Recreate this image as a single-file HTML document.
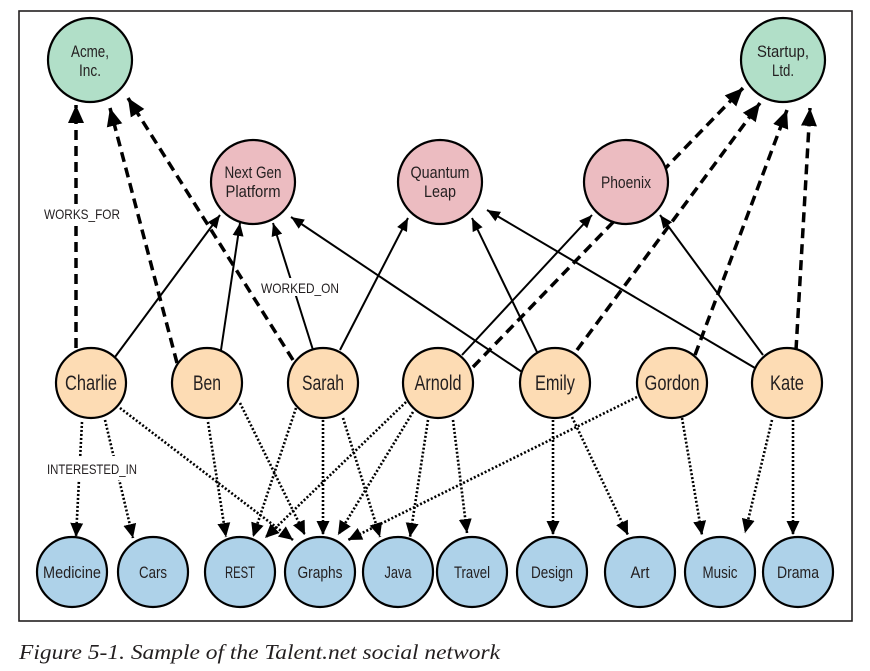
<!DOCTYPE html>
<html><head><meta charset="utf-8"><style>
html,body{margin:0;padding:0;background:#fff;}
svg{display:block;}
.s{font-family:"Liberation Sans",sans-serif;fill:#231f20;}
</style></head><body>
<svg width="870" height="671" viewBox="0 0 870 671" xmlns="http://www.w3.org/2000/svg">
<defs>
<marker id="ad" markerUnits="userSpaceOnUse" markerWidth="20" markerHeight="20" viewBox="0 0 20 20" refX="18" refY="10" orient="auto"><path d="M0,2 L18,10 L0,18 Z" fill="#000"/></marker>
<marker id="as" markerUnits="userSpaceOnUse" markerWidth="14" markerHeight="14" viewBox="0 0 14 14" refX="13" refY="7" orient="auto"><path d="M0,1.5 L13,7 L0,12.5 Z" fill="#000"/></marker>
<marker id="ao" markerUnits="userSpaceOnUse" markerWidth="16" markerHeight="16" viewBox="0 0 16 16" refX="14" refY="8" orient="auto"><path d="M0,1.5 L14,8 L0,14.5 Z" fill="#000"/></marker>
</defs>
<rect x="19" y="11" width="833" height="610" fill="#fff" stroke="#231f20" stroke-width="1.6"/>

<g stroke="#000" stroke-width="3.5" stroke-dasharray="10,6" fill="none" marker-end="url(#ad)">
<line x1="76" y1="348" x2="76" y2="105"/>
<line x1="177" y1="363" x2="110" y2="108"/>
<line x1="293" y1="360" x2="128" y2="98"/>
<line x1="473" y1="367" x2="743" y2="88"/>
<line x1="577" y1="350" x2="760" y2="103"/>
<line x1="695" y1="355" x2="787" y2="110"/>
<line x1="796" y1="350" x2="810" y2="108"/>
</g>

<g stroke="#000" stroke-width="2" fill="none" marker-end="url(#as)">
<line x1="115" y1="357" x2="220" y2="215"/>
<line x1="221" y1="350" x2="240" y2="223"/>
<line x1="313" y1="350" x2="273" y2="223"/>
<line x1="340" y1="350" x2="408" y2="218"/>
<line x1="522" y1="372" x2="291" y2="217"/>
<line x1="462" y1="355" x2="592" y2="215"/>
<line x1="537" y1="352" x2="472" y2="218"/>
<line x1="755" y1="368" x2="487" y2="210"/>
<line x1="763" y1="355" x2="660" y2="215"/>
</g>

<g stroke="#000" stroke-width="2.6" stroke-dasharray="2,2" fill="none" marker-end="url(#ao)">
<line x1="82" y1="422" x2="76" y2="537"/>
<line x1="105" y1="420" x2="133" y2="538"/>
<line x1="120" y1="408" x2="293" y2="540"/>
<line x1="208" y1="422" x2="226" y2="537"/>
<line x1="240" y1="403" x2="305" y2="535"/>
<line x1="296" y1="408" x2="253" y2="537"/>
<line x1="323" y1="420" x2="323" y2="535"/>
<line x1="343" y1="418" x2="380" y2="537"/>
<line x1="406" y1="402" x2="265" y2="538"/>
<line x1="413" y1="412" x2="338" y2="535"/>
<line x1="428" y1="420" x2="410" y2="537"/>
<line x1="453" y1="420" x2="467" y2="533"/>
<line x1="637" y1="397" x2="348" y2="540"/>
<line x1="553" y1="420" x2="553" y2="535"/>
<line x1="572" y1="417" x2="628" y2="535"/>
<line x1="682" y1="418" x2="702" y2="535"/>
<line x1="772" y1="420" x2="745" y2="533"/>
<line x1="793" y1="420" x2="793" y2="535"/>
</g>

<g class="s" font-size="14" text-anchor="middle">
<rect x="42" y="204" width="80" height="18" fill="#fff"/>
<text x="82" y="219" textLength="76" lengthAdjust="spacingAndGlyphs">WORKS_FOR</text>
<rect x="258" y="278" width="84" height="18" fill="#fff"/>
<text x="300" y="293" textLength="78" lengthAdjust="spacingAndGlyphs">WORKED_ON</text>
<rect x="45" y="456" width="96" height="24" fill="#fff"/>
<text x="92" y="474" textLength="90" lengthAdjust="spacingAndGlyphs">INTERESTED_IN</text>
</g>

<g stroke="#000" stroke-width="2.2">
<circle cx="90" cy="60" r="42" fill="#b1dfc8"/>
<circle cx="783" cy="60" r="42" fill="#b1dfc8"/>
<circle cx="253" cy="182" r="42" fill="#ecbcc1"/>
<circle cx="440" cy="182" r="42" fill="#ecbcc1"/>
<circle cx="626" cy="182" r="42" fill="#ecbcc1"/>
<circle cx="91" cy="383" r="35" fill="#fddcb4"/>
<circle cx="207" cy="383" r="35" fill="#fddcb4"/>
<circle cx="323" cy="383" r="35" fill="#fddcb4"/>
<circle cx="438" cy="383" r="35" fill="#fddcb4"/>
<circle cx="555" cy="383" r="35" fill="#fddcb4"/>
<circle cx="672" cy="383" r="35" fill="#fddcb4"/>
<circle cx="787" cy="383" r="35" fill="#fddcb4"/>
<circle cx="72" cy="572" r="35" fill="#aed2e9"/>
<circle cx="153" cy="572" r="35" fill="#aed2e9"/>
<circle cx="240" cy="572" r="35" fill="#aed2e9"/>
<circle cx="320" cy="572" r="35" fill="#aed2e9"/>
<circle cx="398" cy="572" r="35" fill="#aed2e9"/>
<circle cx="472" cy="572" r="35" fill="#aed2e9"/>
<circle cx="552" cy="572" r="35" fill="#aed2e9"/>
<circle cx="640" cy="572" r="35" fill="#aed2e9"/>
<circle cx="720" cy="572" r="35" fill="#aed2e9"/>
<circle cx="798" cy="572" r="35" fill="#aed2e9"/>
</g>

<g class="s" text-anchor="middle" font-size="17" lengthAdjust="spacingAndGlyphs">
<text x="90" y="57" textLength="38" lengthAdjust="spacingAndGlyphs">Acme,</text><text x="90" y="76" textLength="22" lengthAdjust="spacingAndGlyphs">Inc.</text>
<text x="783" y="57" textLength="52" lengthAdjust="spacingAndGlyphs">Startup,</text><text x="783" y="76" textLength="22" lengthAdjust="spacingAndGlyphs">Ltd.</text>
<text x="253" y="178" textLength="57" lengthAdjust="spacingAndGlyphs">Next Gen</text><text x="253" y="197" textLength="55" lengthAdjust="spacingAndGlyphs">Platform</text>
<text x="440" y="178" textLength="59" lengthAdjust="spacingAndGlyphs">Quantum</text><text x="440" y="197" textLength="32" lengthAdjust="spacingAndGlyphs">Leap</text>
<text x="626" y="188" textLength="50" lengthAdjust="spacingAndGlyphs">Phoenix</text>
</g>
<g class="s" text-anchor="middle" font-size="21">
<text x="91" y="390" textLength="52" lengthAdjust="spacingAndGlyphs">Charlie</text>
<text x="207" y="390" textLength="28" lengthAdjust="spacingAndGlyphs">Ben</text>
<text x="323" y="390" textLength="42" lengthAdjust="spacingAndGlyphs">Sarah</text>
<text x="438" y="390" textLength="47" lengthAdjust="spacingAndGlyphs">Arnold</text>
<text x="555" y="390" textLength="40" lengthAdjust="spacingAndGlyphs">Emily</text>
<text x="672" y="390" textLength="55" lengthAdjust="spacingAndGlyphs">Gordon</text>
<text x="787" y="390" textLength="34" lengthAdjust="spacingAndGlyphs">Kate</text>
</g>
<g class="s" text-anchor="middle" font-size="17">
<text x="72" y="578" textLength="58" lengthAdjust="spacingAndGlyphs">Medicine</text>
<text x="153" y="578" textLength="28" lengthAdjust="spacingAndGlyphs">Cars</text>
<text x="240" y="578" textLength="30" lengthAdjust="spacingAndGlyphs">REST</text>
<text x="320" y="578" textLength="45" lengthAdjust="spacingAndGlyphs">Graphs</text>
<text x="398" y="578" textLength="27" lengthAdjust="spacingAndGlyphs">Java</text>
<text x="472" y="578" textLength="36" lengthAdjust="spacingAndGlyphs">Travel</text>
<text x="552" y="578" textLength="42" lengthAdjust="spacingAndGlyphs">Design</text>
<text x="640" y="578" textLength="19" lengthAdjust="spacingAndGlyphs">Art</text>
<text x="720" y="578" textLength="35" lengthAdjust="spacingAndGlyphs">Music</text>
<text x="798" y="578" textLength="42" lengthAdjust="spacingAndGlyphs">Drama</text>
</g>

<text x="19" y="659" style="font-family:'Liberation Serif',serif;font-style:italic;fill:#231f20" font-size="21" textLength="481" lengthAdjust="spacingAndGlyphs">Figure 5-1. Sample of the Talent.net social network</text>
</svg>
</body></html>
